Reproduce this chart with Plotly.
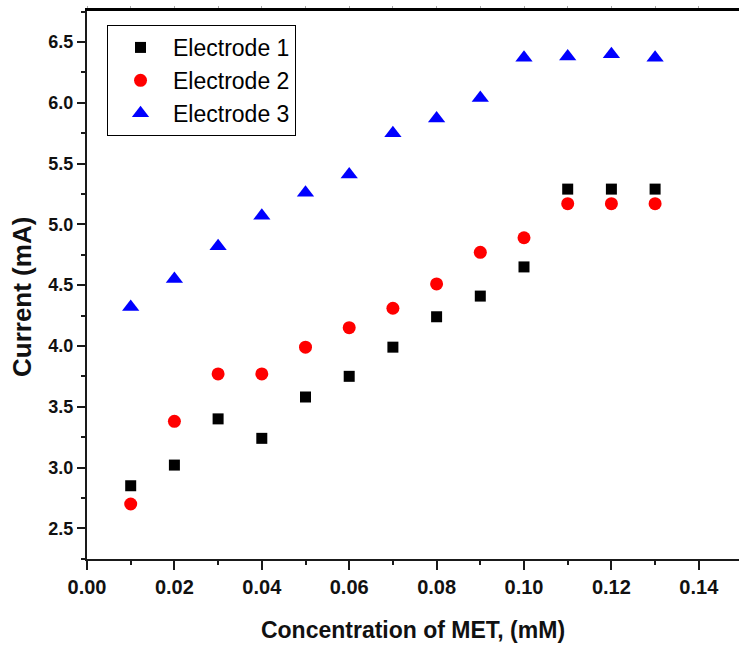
import plotly.graph_objects as go

# MET concentration (mM)
conc = [0.01, 0.02, 0.03, 0.04, 0.05, 0.06, 0.07, 0.08, 0.09, 0.10, 0.11, 0.12, 0.13]

# Peak current (mA) for each electrode
electrode_1 = [2.85, 3.02, 3.40, 3.24, 3.58, 3.75, 3.99, 4.24, 4.41, 4.65, 5.29, 5.29, 5.29]
electrode_2 = [2.70, 3.38, 3.77, 3.77, 3.99, 4.15, 4.31, 4.51, 4.77, 4.89, 5.17, 5.17, 5.17]
electrode_3 = [4.32, 4.55, 4.82, 5.07, 5.26, 5.41, 5.75, 5.87, 6.04, 6.37, 6.38, 6.40, 6.37]

series_names = ["Electrode 1", "Electrode 2", "Electrode 3"]

FONT = "Liberation Sans, Arial, sans-serif"
AXIS_COLOR = "#1a1a1a"

fig = go.Figure()
fig.add_trace(go.Scatter(x=conc, y=electrode_1, mode="markers", name=series_names[0],
                         legendgroup="e1",
                         marker=dict(symbol="square", size=11, color="#000000")))
fig.add_trace(go.Scatter(x=conc, y=electrode_2, mode="markers", name=series_names[1],
                         legendgroup="e2",
                         marker=dict(symbol="circle", size=13, color="#ff0000")))
fig.add_trace(go.Scatter(x=conc, y=electrode_3, mode="markers", name=series_names[2],
                         legendgroup="e3",
                         marker=dict(symbol="triangle-up", size=15, color="#0000ff")))
# empty trace so the top tick axis is drawn
fig.add_trace(go.Scatter(x=[], y=[], xaxis="x2", showlegend=False, hoverinfo="skip"))

fig.update_layout(
    width=739, height=648,
    margin=dict(l=87, r=0, t=11, b=89),
    paper_bgcolor="white", plot_bgcolor="white",
    showlegend=True,
    legend=dict(
        x=0.0307, y=0.9745, xanchor="left", yanchor="top",
        bgcolor="white", bordercolor="#000000", borderwidth=1,
        font=dict(family=FONT, size=23, color="#000000"),
        traceorder="grouped", tracegroupgap=0, itemwidth=55,
    ),
    xaxis=dict(
        range=[0, 0.1492], dtick=0.02, tick0=0, tickformat=".2f",
        showgrid=False, zeroline=False,
        showline=True, linecolor=AXIS_COLOR, linewidth=2,
        ticks="outside", ticklen=9, tickwidth=2, tickcolor=AXIS_COLOR,
        minor=dict(dtick=0.01, ticks="outside", ticklen=4, tickwidth=1.5, tickcolor=AXIS_COLOR),
        tickfont=dict(family=FONT, size=20, color="#111111", weight="bold"),
        title=dict(text="Concentration of MET, (mM)", standoff=25,
                   font=dict(family=FONT, size=23, color="#111111", weight="bold")),
    ),
    xaxis2=dict(
        overlaying="x", side="top", range=[0, 0.1492], dtick=0.01, tick0=0,
        showgrid=False, zeroline=False, showticklabels=False,
        showline=True, linecolor="#000000", linewidth=2.5,
        ticks="outside", ticklen=2, tickwidth=1, tickcolor="#aaaaaa",
    ),
    yaxis=dict(
        range=[2.2475, 6.755], dtick=0.5, tick0=2.5, tickformat=".1f",
        showgrid=False, zeroline=False,
        showline=True, linecolor=AXIS_COLOR, linewidth=2,
        ticks="outside", ticklen=8, tickwidth=2, tickcolor=AXIS_COLOR,
        minor=dict(dtick=0.25, ticks="outside", ticklen=4, tickwidth=1.5, tickcolor=AXIS_COLOR),
        tickfont=dict(family=FONT, size=18, color="#111111", weight="bold"),
    ),
    annotations=[dict(
        text="Current (mA)", textangle=-90,
        xref="paper", yref="paper", x=(22 - 87) / 652, y=(559 - 297) / 548,
        xanchor="center", yanchor="middle", showarrow=False,
        font=dict(family=FONT, size=26, color="#111111", weight="bold"),
    )],
)

fig.write_html("out.html")
